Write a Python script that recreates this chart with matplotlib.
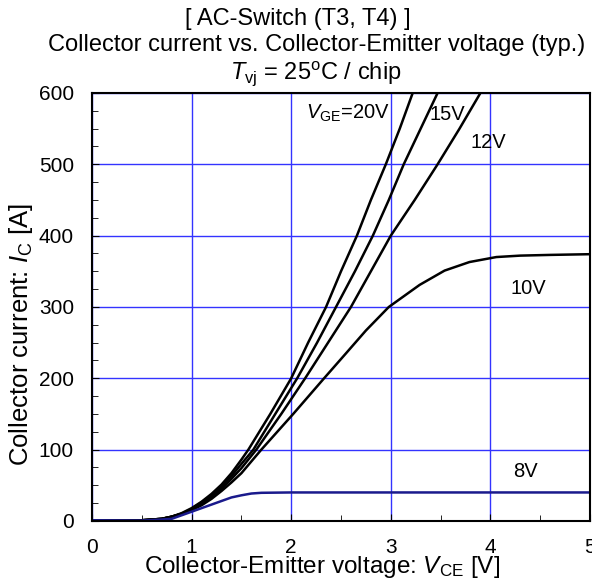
import matplotlib
matplotlib.use("Agg")
import matplotlib.pyplot as plt
from matplotlib.ticker import MultipleLocator

plt.rcParams['font.family'] = ['Liberation Sans', 'DejaVu Sans']
plt.rcParams['mathtext.fontset'] = 'custom'
plt.rcParams['mathtext.rm'] = 'Liberation Sans'
plt.rcParams['mathtext.it'] = 'Liberation Sans:italic'

# -----------------------------
# Data
# -----------------------------
v20 = [0, 0.5, 0.7, 0.8, 0.9, 1.0, 1.1, 1.2, 1.3, 1.4, 1.5, 1.57, 1.79, 2.0,
       2.17, 2.35, 2.5, 2.66, 2.8, 2.95, 3.09, 3.22, 3.3]
i20 = [1, 1, 3, 6, 11, 18, 27, 38, 51, 67, 86, 100, 150, 200,
       250, 300, 350, 400, 450, 500, 550, 600, 625]

v15 = [0, 0.5, 0.7, 0.8, 0.9, 1.0, 1.1, 1.2, 1.3, 1.4, 1.5, 1.62, 1.84, 2.06,
       2.26, 2.45, 2.64, 2.82, 2.98, 3.13, 3.3, 3.47, 3.55]
i15 = [1, 1, 3, 6, 10, 17, 26, 36, 48, 63, 80, 100, 150, 200,
       250, 300, 350, 400, 450, 500, 550, 600, 625]

v12 = [0, 0.5, 0.7, 0.8, 0.9, 1.0, 1.1, 1.2, 1.3, 1.4, 1.5, 1.65, 1.9, 2.14,
       2.37, 2.6, 2.8, 3.0, 3.24, 3.47, 3.69, 3.9, 4.0]
i12 = [1, 1, 3, 6, 10, 16, 24, 34, 45, 59, 74, 100, 150, 200,
       250, 300, 350, 400, 450, 500, 550, 600, 625]

v10 = [0, 0.5, 0.7, 0.8, 0.9, 1.0, 1.1, 1.2, 1.3, 1.4, 1.5, 1.7, 2.02, 2.33,
       2.55, 2.75, 2.98, 3.29, 3.54, 3.79, 4.06, 4.3, 4.6, 5.0]
i10 = [1, 1, 3, 6, 10, 15, 22, 31, 42, 54, 67, 100, 150, 200,
       235, 267, 300, 331, 351, 363, 370, 372, 373, 374]

v8 = [0, 0.5, 0.7, 0.8, 0.9, 1.0, 1.1, 1.2, 1.3, 1.4, 1.5, 1.6, 1.7, 2.0, 3.0, 4.0, 5.0]
i8 = [1, 0.5, 2, 3, 8, 13, 18, 23, 28, 33, 36, 38.5, 39.5, 40, 40, 40, 40]

labels = ['$V_{\\rm GE}$=20V', '15V', '12V', '10V', '8V']
label_x = [2.15, 3.39, 3.8, 4.2, 4.23]
label_y = [571, 570, 530, 326, 69]

# -----------------------------
# Plot
# -----------------------------
fig = plt.figure(figsize=(5.92, 5.84), dpi=100)
ax = fig.add_axes([0.1554, 0.1079, 0.8412, 0.7329])

for v, i in [(v20, i20), (v15, i15), (v12, i12), (v10, i10)]:
    ax.plot(v, i, color='black', linewidth=1.8)
ax.plot(v8, i8, color='#1a1a8c', linewidth=1.8)

for txt, x, y in zip(labels, label_x, label_y):
    ax.text(x, y, txt, fontsize=14.5, va='center', ha='left')

ax.set_xlim(0, 5)
ax.set_ylim(0, 600)
ax.xaxis.set_major_locator(MultipleLocator(1))
ax.xaxis.set_minor_locator(MultipleLocator(0.5))
ax.yaxis.set_major_locator(MultipleLocator(100))
ax.yaxis.set_minor_locator(MultipleLocator(25))
ax.tick_params(which='both', direction='in', top=False, right=False, labelsize=15)
ax.tick_params(axis='x', which='major', length=5, pad=12)
ax.tick_params(axis='y', which='major', length=5, pad=13)
ax.tick_params(which='minor', length=4)
ax.grid(True, which='major', color='#3333ff', linewidth=1.0)
for s in ax.spines.values():
    s.set_linewidth(1.5)

ax.set_xlabel('Collector-Emitter voltage: $V_{\\rm CE}$ [V]', fontsize=17.5)
ax.xaxis.set_label_coords(0.462, -0.076)
ax.set_ylabel('Collector current: $I_{\\rm C}$ [A]', fontsize=18.5)
ax.yaxis.set_label_coords(-0.114, 0.435)

fig.text(298 / 592, 1 - 19 / 584, '[ AC-Switch (T3, T4) ]', fontsize=17, ha='center', va='center')
fig.text(317 / 592, 1 - 45 / 584, 'Collector current vs. Collector-Emitter voltage (typ.)',
         fontsize=17, ha='center', va='center')
fig.text(316 / 592, 1 - 74 / 584, '$T_{\\rm vj}$ = 25$^{\\rm o}$C / chip', fontsize=17,
         ha='center', va='center')

fig.savefig('out.png', dpi=100)
